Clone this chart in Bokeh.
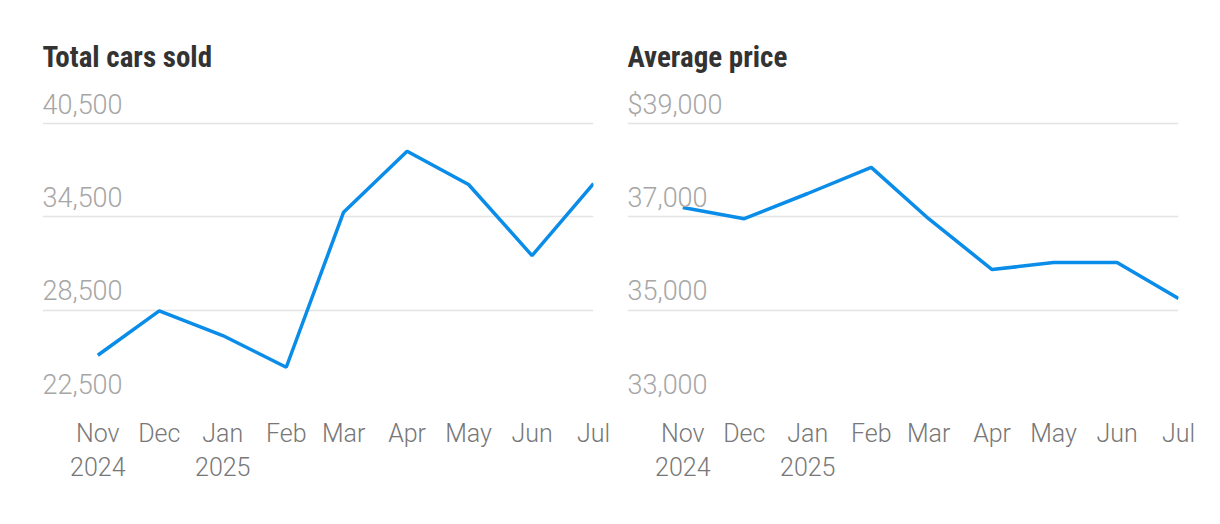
from datetime import datetime
from bokeh.plotting import figure
from bokeh.layouts import row
from bokeh.models import FixedTicker, ColumnDataSource, Range1d, LabelSet
from bokeh.core.properties import value
from bokeh.embed import file_html
from bokeh.resources import INLINE

# ---- data ----
months = [datetime(2024, 11, 1), datetime(2024, 12, 1), datetime(2025, 1, 1),
          datetime(2025, 2, 1), datetime(2025, 3, 1), datetime(2025, 4, 1),
          datetime(2025, 5, 1), datetime(2025, 6, 1), datetime(2025, 7, 1)]
month_labels = ["Nov\n2024", "Dec", "Jan\n2025", "Feb", "Mar", "Apr", "May", "Jun", "Jul"]

cars_sold = [25600, 28450, 26870, 24830, 34800, 38720, 36580, 32010, 36640]
avg_price = [37200, 36960, 37500, 38060, 36960, 35870, 36020, 36020, 35250]

cars_ticks = [22500, 28500, 34500, 40500]
cars_tick_labels = ["22,500", "28,500", "34,500", "40,500"]
price_ticks = [33000, 35000, 37000, 39000]
price_tick_labels = ["33,000", "35,000", "37,000", "$39,000"]

EPOCH = datetime(1970, 1, 1)


def ms(d):
    return (d - EPOCH).total_seconds() * 1000.0


X_START = datetime(2024, 10, 5)
LIGHT = "Roboto Light, Roboto"
TITLE_FONT = "Roboto Condensed, Roboto"


def make_chart(title, values, ticks, tick_labels, y_end, border_left, border_right):
    p = figure(
        x_axis_type="datetime",
        frame_width=551, frame_height=313,
        min_border_left=border_left, min_border_right=border_right,
        min_border_top=90, min_border_bottom=10,
        output_backend="svg", toolbar_location=None,
        x_range=Range1d(ms(X_START), ms(months[-1])),
        y_range=Range1d(ticks[0], y_end),
        title=title,
    )
    p.outline_line_color = None
    p.background_fill_color = "white"
    p.border_fill_color = "white"

    p.title.text_font = TITLE_FONT
    p.title.text_font_size = "29px"
    p.title.text_font_style = "bold"
    p.title.text_color = "#333333"
    p.title.align = "left"
    p.title.standoff = 33

    p.xgrid.visible = False
    p.ygrid.ticker = FixedTicker(ticks=ticks)
    p.ygrid.grid_line_color = "#e4e4e4"
    p.ygrid.grid_line_width = 1.5
    p.yaxis.visible = False

    xa = p.xaxis[0]
    xa.ticker = FixedTicker(ticks=[ms(m) for m in months])
    xa.major_label_overrides = {ms(m): lab for m, lab in zip(months, month_labels)}
    xa.axis_line_color = None
    xa.major_tick_line_color = None
    xa.minor_tick_line_color = None
    xa.major_label_text_font = LIGHT
    xa.major_label_text_font_size = "25px"
    xa.major_label_text_color = "#777777"
    xa.major_label_standoff = 9

    src = ColumnDataSource(dict(x=[ms(m) for m in months], y=values))
    p.line("x", "y", source=src, line_color="#0a8ce9", line_width=3.5)

    lab_src = ColumnDataSource(dict(x=[ms(X_START)] * len(ticks), y=ticks, t=tick_labels))
    labels = LabelSet(x="x", y="y", text="t", source=lab_src, text_align="left",
                      text_baseline="alphabetic", y_offset=10,
                      text_font=value(LIGHT), text_font_size=value("27px"),
                      text_color=value("#a6a6a6"),
                      background_fill_color="white", background_fill_alpha=1.0)
    p.add_layout(labels)
    return p


p1 = make_chart("Total cars sold", cars_sold, cars_ticks, cars_tick_labels,
                40500 + 33 * 6000 / 93.33, 42, 17)
p2 = make_chart("Average price", avg_price, price_ticks, price_tick_labels,
                39000 + 33 * 2000 / 93.33, 17, 20)

layout = row(p1, p2)
open("out.html", "w").write(file_html(layout, INLINE))
